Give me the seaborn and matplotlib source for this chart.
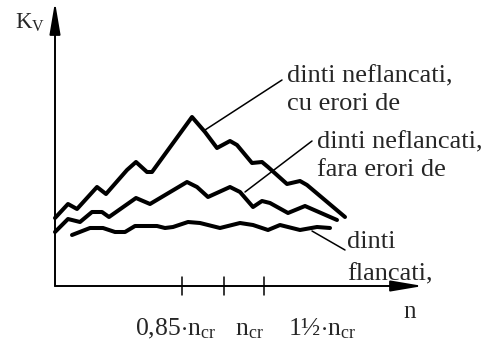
import matplotlib
matplotlib.use("Agg")
import matplotlib.pyplot as plt
import seaborn as sns
import pandas as pd

# K_V curves versus rotational speed n (arbitrary units)
x_unground_err = [0, 13, 22, 42, 51, 72, 81, 92, 97, 137, 150, 162, 175, 182, 197, 207, 213, 232, 245, 252, 290]
y_unground_err = [68, 82, 77, 99, 92, 116, 124, 114, 114, 169, 154, 138, 145, 141, 123, 124, 119, 102, 105, 101, 69]

x_unground = [0, 13, 25, 37, 47, 54, 81, 95, 132, 142, 153, 175, 185, 198, 207, 215, 233, 250, 282]
y_unground = [54, 67, 64, 74, 74, 69, 88, 82, 104, 99, 89, 99, 94, 79, 85, 83, 73, 80, 66]

x_ground = [17, 35, 48, 60, 70, 80, 102, 110, 118, 133, 145, 165, 185, 198, 213, 225, 245, 262, 275]
y_ground = [51, 58, 58, 54, 54, 60, 60, 58, 59, 64, 63, 58, 63, 61, 56, 61, 56, 59, 58]

tick_pos = [127, 169, 209]
tick_labels = [r"0,85$\cdot$n$_{\mathrm{cr}}$", r"n$_{\mathrm{cr}}$", r"1½$\cdot$n$_{\mathrm{cr}}$"]
tick_label_x = [80, 180, 233]

label_lines = [
    ["dinti neflancati,", "cu erori de"],
    ["dinti neflancati,", "fara erori de"],
    ["dinti", "flancati,"],
]

sns.set_style("white")
plt.rcParams["font.family"] = ["Liberation Serif", "DejaVu Serif"]
plt.rcParams["mathtext.fontset"] = "custom"
plt.rcParams["mathtext.rm"] = "Liberation Serif"
plt.rcParams["mathtext.it"] = "Liberation Serif:italic"

df = pd.concat([
    pd.DataFrame({"n": x_unground_err, "kv": y_unground_err, "s": "a"}),
    pd.DataFrame({"n": x_unground, "kv": y_unground, "s": "b"}),
    pd.DataFrame({"n": x_ground, "kv": y_ground, "s": "c"}),
], ignore_index=True)

fig = plt.figure(figsize=(4.97, 3.41), dpi=100)
ax = fig.add_axes([0, 0, 1, 1])
ax.set_xlim(-55, 442)
ax.set_ylim(-55, 286)
ax.axis("off")

sns.lineplot(data=df, x="n", y="kv", hue="s", units="s", estimator=None,
             palette=["black"] * 3, sort=False, legend=False, linewidth=2.9,
             solid_joinstyle="round", solid_capstyle="round", ax=ax)

# axes with arrow heads
arrow = dict(arrowstyle="-|>,head_length=1.3,head_width=0.22", lw=1.4,
             color="black", mutation_scale=15, shrinkA=0, shrinkB=0)
ax.annotate("", xy=(0, 284), xytext=(0, 0), arrowprops=arrow)
ax.annotate("", xy=(368, 0), xytext=(0, 0), arrowprops=arrow)

for t in tick_pos:
    ax.plot([t, t], [9, -9], color="black", lw=1.1)
for t, lab in zip(tick_label_x, tick_labels):
    ax.text(t, -49, lab, fontsize=18.5, va="baseline", ha="left")

ax.text(-40, 257, r"K$_{\mathrm{V}}$", fontsize=16.5, va="baseline", ha="left")
ax.text(348, -32, "n", fontsize=18, va="baseline", ha="left")

# leader lines from curves to their labels
leaders = [((150, 156), (227, 206)), ((190, 94), (257, 145)), ((257, 55), (290, 36))]
for (x0, y0), (x1, y1) in leaders:
    ax.plot([x0, x1], [y0, y1], color="black", lw=1.1)

label_pos = [(232, 204, 28), (262, 138, 28), (292, 38, 32)]
for (lx, ly, dy), lines in zip(label_pos, label_lines):
    for i, line in enumerate(lines):
        ax.text(lx, ly - i * dy, line, fontsize=19, va="baseline", ha="left")

fig.savefig("out.png", dpi=100)
